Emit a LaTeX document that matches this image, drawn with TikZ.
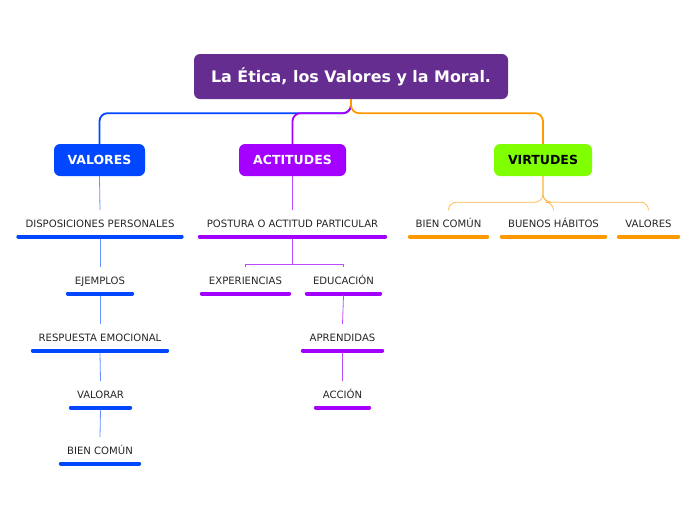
\documentclass[tikz,border=0pt]{standalone}
\usepackage{fontspec}
\setmainfont{DejaVu Sans}
\usepackage{xcolor}
\definecolor{mapTitle}{RGB}{102, 45, 145}
\definecolor{mapBlue}{RGB}{0, 71, 255}
\definecolor{mapPurple}{RGB}{163, 0, 255}
\definecolor{mapGreen}{RGB}{128, 255, 0}
\definecolor{mapOrange}{RGB}{255, 153, 0}
\usepackage{tikz}
\usetikzlibrary{
    arrows.meta,
    positioning,
    calc
}

\begin{document}
\begin{tikzpicture}[
    x=1pt, y=-1pt,
    titleBox/.style={
        rectangle, rounded corners=6pt,
        fill=mapTitle, text=white,
        font=\fontsize{15.9}{18}\selectfont\bfseries, align=center,
        minimum width=314pt, minimum height=45pt
    },
    mainBox/.style={
        rectangle, rounded corners=6pt,
        text=white,
        font=\fontsize{12.5}{14}\selectfont\bfseries, align=center,
        minimum height=32pt
    },
    topicNode/.style={
        font=\fontsize{10.1}{12}\selectfont, text=black!85,
        text height=8pt, text depth=0pt,
        inner xsep=0pt, inner ysep=9pt
    },
    mainLink/.style={line width=1.8pt, rounded corners=8pt},
    subLink/.style={line width=0.8pt},
    topicBar/.style={line width=4pt, line cap=round, shorten <=2pt, shorten >=2pt}
]
    \useasboundingbox (0,0) rectangle (696,520);

    % Title and main branches
    \node[titleBox] (title) at (351, 76.5) {La Ética, los Valores y la Moral.};

    \node[mainBox, fill=mapBlue, minimum width=91pt] (valores) at (99.5, 160) {VALORES};
    \node[mainBox, fill=mapPurple, minimum width=107pt] (actitudes) at (292.5, 160) {ACTITUDES};
    \node[mainBox, fill=mapGreen, text=black, minimum width=98pt] (virtudes) at (543, 160) {VIRTUDES};

    % VALORES topics
    \node[topicNode, anchor=south, minimum width=167pt] (dispo) at (100, 236.5) {DISPOSICIONES PERSONALES};
    \node[topicNode, anchor=south, minimum width=68pt] (ejemplos) at (100, 293.5) {EJEMPLOS};
    \node[topicNode, anchor=south, minimum width=138pt] (respuesta) at (100, 350.5) {RESPUESTA EMOCIONAL};
    \node[topicNode, anchor=south, minimum width=63pt] (valorar) at (100.5, 407.5) {VALORAR};
    \node[topicNode, anchor=south, minimum width=82pt] (bienA) at (100, 463.5) {BIEN COMÚN};

    % ACTITUDES topics
    \node[topicNode, anchor=south, minimum width=189pt] (postura) at (292.5, 236.5) {POSTURA O ACTITUD PARTICULAR};
    \node[topicNode, anchor=south, minimum width=91pt] (experiencias) at (245.5, 293.5) {EXPERIENCIAS};
    \node[topicNode, anchor=south, minimum width=77pt] (educacion) at (343.5, 293.5) {EDUCACIÓN};
    \node[topicNode, anchor=south, minimum width=83pt] (aprendidas) at (342.5, 350.5) {APRENDIDAS};
    \node[topicNode, anchor=south, minimum width=57pt] (accion) at (342.5, 407.5) {ACCIÓN};

    % VIRTUDES topics
    \node[topicNode, anchor=south, minimum width=81pt] (bienB) at (448.5, 236.5) {BIEN COMÚN};
    \node[topicNode, anchor=south, minimum width=107pt] (habitos) at (553.5, 236.5) {BUENOS HÁBITOS};
    \node[topicNode, anchor=south, minimum width=63pt] (valoresB) at (648.5, 236.5) {VALORES};

    % Underline bars
    \foreach \n in {dispo, ejemplos, respuesta, valorar, bienA}
        \draw[topicBar, mapBlue] (\n.south west) -- (\n.south east);
    \foreach \n in {postura, experiencias, educacion, aprendidas, accion}
        \draw[topicBar, mapPurple] (\n.south west) -- (\n.south east);
    \foreach \n in {bienB, habitos, valoresB}
        \draw[topicBar, mapOrange] (\n.south west) -- (\n.south east);

    % Main links
    \draw[mainLink, mapBlue] (title.south) -- ++(0,14) -| (valores.north);
    \draw[mainLink, mapPurple] (title.south) -- ++(0,14) -| (actitudes.north);
    \draw[mainLink, mapOrange] (title.south) -- ++(0,14) -| (virtudes.north);

    % VALORES chain
    \draw[subLink, mapBlue!60] (valores.south) -- (dispo.north);
    \draw[subLink, mapBlue!60] ($(dispo.south)+(0,2)$) -- (ejemplos.north);
    \draw[subLink, mapBlue!60] ($(ejemplos.south)+(0,2)$) -- (respuesta.north);
    \draw[subLink, mapBlue!60] ($(respuesta.south)+(0,2)$) -- (valorar.north);
    \draw[subLink, mapBlue!60] ($(valorar.south)+(0,2)$) -- (bienA.north);

    % ACTITUDES tree
    \draw[subLink, mapPurple!70] (actitudes.south) -- (postura.north);
    \draw[subLink, mapPurple!70] ($(postura.south)+(0,2)$) -- ++(0,26) -| (experiencias.north);
    \draw[subLink, mapPurple!70] ($(postura.south)+(0,2)$) -- ++(0,26) -| (educacion.north);
    \draw[subLink, mapPurple!70] ($(educacion.south)+(0,2)$) -- (aprendidas.north);
    \draw[subLink, mapPurple!70] ($(aprendidas.south)+(0,2)$) -- (accion.north);

    % VIRTUDES tree
    \draw[subLink, mapOrange!70, rounded corners=8pt] (virtudes.south) -- ++(0,26) -| (bienB.north);
    \draw[subLink, mapOrange!70, rounded corners=8pt] (virtudes.south) -- ++(0,26) -| (habitos.north);
    \draw[subLink, mapOrange!70, rounded corners=8pt] (virtudes.south) -- ++(0,26) -| (valoresB.north);

\end{tikzpicture}
\end{document}
